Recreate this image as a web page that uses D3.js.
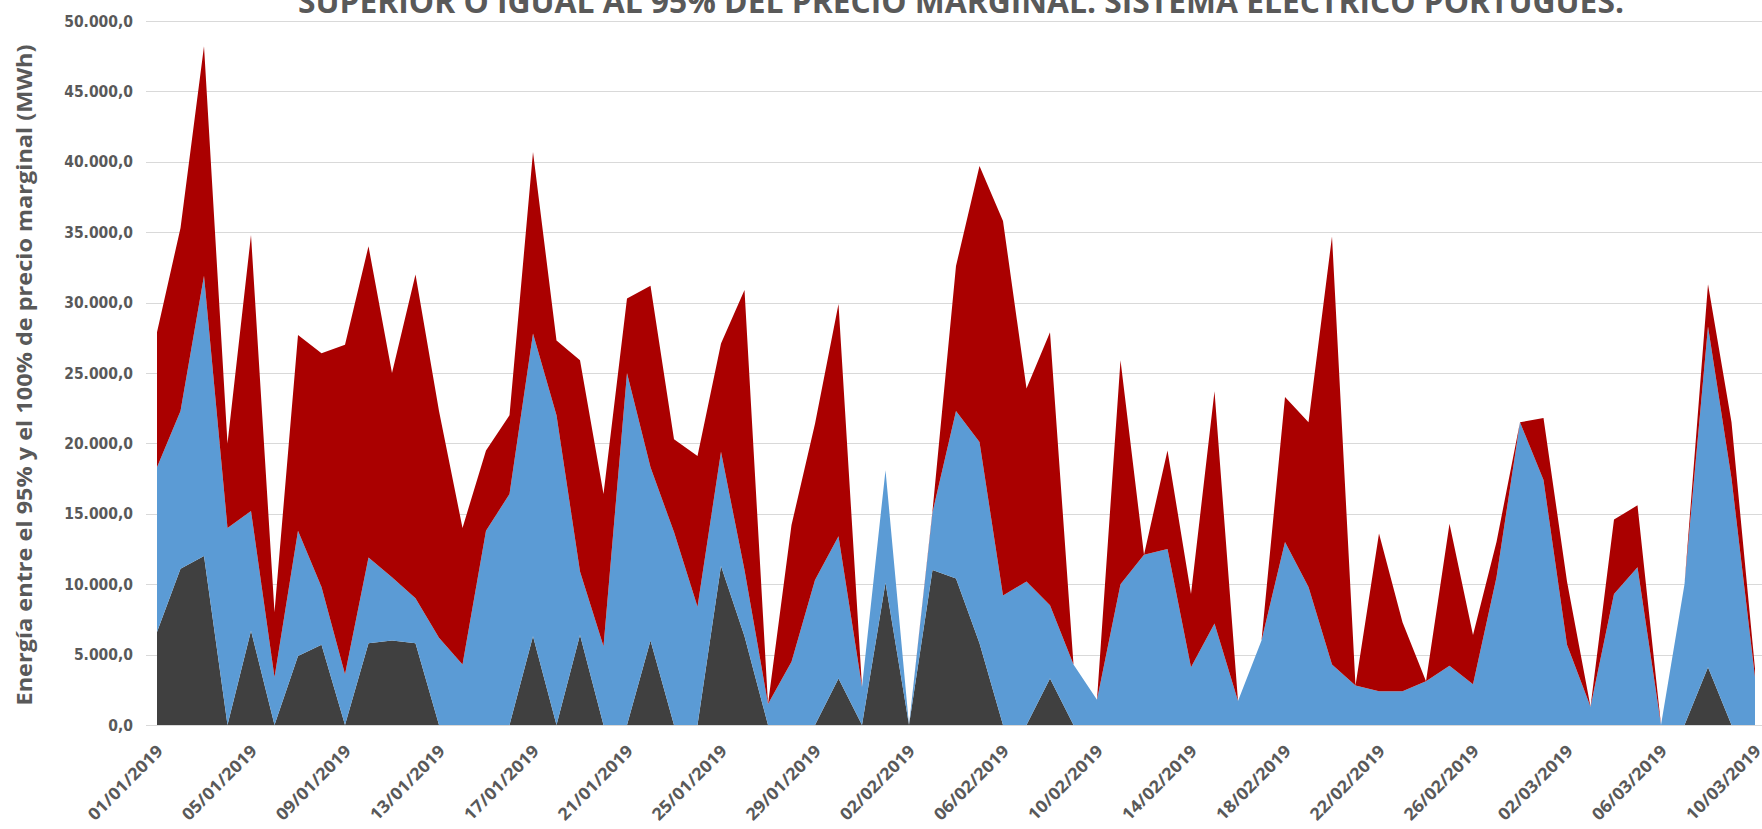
<!DOCTYPE html>
<html lang="es">
<head>
  <meta charset="UTF-8">
  <script src="https://d3js.org/d3.v7.min.js"></script>
  <style>
    body {
      margin: 0;
      background: #fff;
    }

    .grid line {
      stroke: #d9d9d9;
      stroke-width: 1;
    }

    .tick-label {
      font: bold 15.5px "DejaVu Sans Condensed", "DejaVu Sans", sans-serif;
      fill: #595959;
    }

    .x-label {
      font: bold 17px "Open Sans", sans-serif;
      fill: #595959;
    }

    .title {
      font: bold 32px "Open Sans", sans-serif;
      fill: #595959;
    }

    .y-title {
      font: bold 22px "Open Sans", sans-serif;
      fill: #595959;
    }
  </style>
</head>
<body>
  <div id="chart"></div>

  <script>
    // dias del 01/01/2019 al 10/03/2019
    var startDay = new Date(2019, 0, 1);
    var dias = d3.timeDay.range(startDay, new Date(2019, 2, 11));

    // energia por tramo (MWh), de abajo a arriba
    var gris = [
      6600, 11100, 12000, 0, 6700, 0, 4900, 5700, 0, 5800, 6000, 5800,
      0, 0, 0, 0, 6300, 0, 6400, 0, 0, 6000, 0, 0,
      11300, 6300, 0, 0, 0, 3300, 0, 10100, 0, 11000, 10400, 5800,
      0, 0, 3300, 0, 0, 0, 0, 0, 0, 0, 0, 0,
      0, 0, 0, 0, 0, 0, 0, 0, 0, 0, 0, 0,
      0, 0, 0, 0, 0, 0, 4100, 0, 0
    ];
    var azul = [
      11700, 11200, 19900, 14000, 8500, 3400, 8900, 4100, 3600, 6100, 4500, 3200,
      6200, 4300, 13800, 16400, 21500, 22000, 4500, 5600, 25000, 12300, 13700, 8400,
      8100, 4700, 1500, 4500, 10300, 10100, 2700, 8000, 0, 4100, 11900, 14300,
      9200, 10200, 5200, 4300, 1800, 10000, 12100, 12500, 4100, 7200, 1700, 6000,
      13000, 9800, 4300, 2800, 2400, 2400, 3100, 4200, 2900, 10500, 21500, 17400,
      5700, 1300, 9300, 11200, 0, 10000, 24200, 17500, 3400
    ];
    var rojo = [
      9600, 13000, 16300, 6000, 19600, 4600, 13900, 16600, 23400, 22100, 14500, 23000,
      16100, 9700, 5700, 5600, 12900, 5300, 15000, 10800, 5300, 12900, 6600, 10700,
      7700, 19900, 0, 9700, 11100, 16500, 0, 0, 0, 100, 10300, 19600,
      26600, 13700, 19400, 0, 0, 15900, 0, 7000, 5200, 16500, 0, 0,
      10300, 11700, 30400, 0, 11200, 4900, 0, 10100, 3500, 2500, 0, 4400,
      4500, 0, 5300, 4400, 0, 0, 3000, 4000, 600
    ];

    var yTicks = [0, 5000, 10000, 15000, 20000, 25000, 30000, 35000, 40000, 45000, 50000];
    var colores = { gris: "#404040", azul: "#5b9bd5", rojo: "#aa0000" };

    var width = 1762;
    var height = 829;

    var rows = dias.map(function (d, i) {
      return { fecha: d, gris: gris[i], azul: azul[i], rojo: rojo[i] };
    });

    var svg = d3.select("#chart")
      .append("svg")
      .attr("width", width)
      .attr("height", height);

    var x = d3.scaleTime()
      .domain([dias[0], dias[dias.length - 1]])
      .range([157, 1755]);

    var y = d3.scaleLinear()
      .domain([0, 50000])
      .range([725, 21]);

    var es = d3.formatLocale({ decimal: ",", thousands: ".", grouping: [3], currency: ["", " €"] });
    var fmtY = es.format(",.1f");
    var fmtX = d3.timeFormat("%d/%m/%Y");

    // lineas de rejilla
    svg.append("g")
      .attr("class", "grid")
      .selectAll("line")
      .data(yTicks)
      .enter()
      .append("line")
      .attr("x1", 146)
      .attr("x2", width)
      .attr("y1", function (d) { return Math.round(y(d)) + 0.5; })
      .attr("y2", function (d) { return Math.round(y(d)) + 0.5; });

    // areas apiladas
    var stack = d3.stack().keys(["gris", "azul", "rojo"]);
    var series = stack(rows);

    var area = d3.area()
      .x(function (d) { return x(d.data.fecha); })
      .y0(function (d) { return y(d[0]); })
      .y1(function (d) { return y(d[1]); });

    svg.append("g")
      .selectAll("path")
      .data(series)
      .enter()
      .append("path")
      .attr("fill", function (d) { return colores[d.key]; })
      .attr("d", area);

    // eje Y
    svg.append("g")
      .selectAll("text")
      .data(yTicks)
      .enter()
      .append("text")
      .attr("class", "tick-label")
      .attr("x", 133)
      .attr("y", function (d) { return y(d); })
      .attr("dy", "0.36em")
      .attr("text-anchor", "end")
      .text(function (d) { return fmtY(d); });

    // eje X, una etiqueta cada 4 dias
    var xTicks = dias.filter(function (d, i) { return i % 4 === 0; });

    svg.append("g")
      .selectAll("text")
      .data(xTicks)
      .enter()
      .append("text")
      .attr("class", "x-label")
      .attr("transform", function (d) { return "translate(" + (x(d) + 3) + ",748) rotate(-45)"; })
      .attr("text-anchor", "end")
      .attr("dy", "0.35em")
      .attr("textLength", 98)
      .attr("lengthAdjust", "spacingAndGlyphs")
      .text(function (d) { return fmtX(d); });

    // titulo (cortado arriba, como en el original)
    svg.append("text")
      .attr("class", "title")
      .attr("x", 298)
      .attr("y", 13)
      .attr("textLength", 1326)
      .attr("lengthAdjust", "spacingAndGlyphs")
      .text("SUPERIOR O IGUAL AL 95% DEL PRECIO MARGINAL. SISTEMA ELÉCTRICO PORTUGUÉS.");

    svg.append("text")
      .attr("class", "y-title")
      .attr("transform", "translate(32,375) rotate(-90)")
      .attr("text-anchor", "middle")
      .attr("textLength", 661)
      .attr("lengthAdjust", "spacingAndGlyphs")
      .text("Energía entre el 95% y el 100% de precio marginal (MWh)");
  </script>
</body>
</html>
